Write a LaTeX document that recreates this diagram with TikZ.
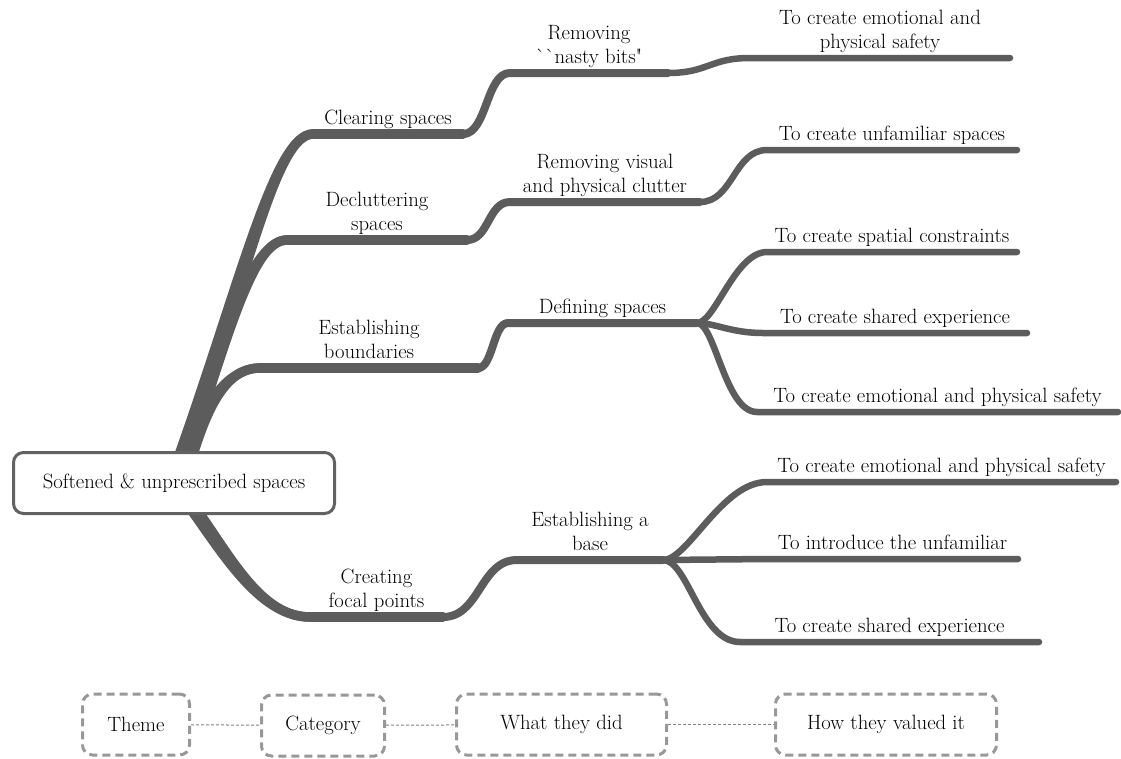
\documentclass[tikz,border=0pt]{standalone}
\usetikzlibrary{calc}
\definecolor{branch}{RGB}{92,92,92}
\definecolor{rootline}{RGB}{98,98,98}
\definecolor{keyline}{RGB}{152,152,152}
\pgfdeclarelayer{bg}
\pgfsetlayers{bg,main}
\newcommand\labelfont{\fontsize{20.7}{24}\selectfont}

\begin{document}
\begin{tikzpicture}[x=1pt,y=-1pt,
  lvlA/.style={draw=branch,line width=9.5pt,line cap=round,line join=round},
  lvlB/.style={draw=branch,line width=8pt,line cap=round,line join=round},
  lvlC/.style={draw=branch,line width=6.5pt,line cap=round,line join=round},
  lbl/.style={anchor=south,inner sep=0pt,align=center,
    font=\labelfont,execute at end node={\vphantom{gy}}},
  rootbox/.style={draw=rootline,line width=3pt,rounded corners=10pt,fill=white,
    minimum width=321pt,minimum height=61pt,inner sep=0pt,font=\labelfont},
  keybox/.style={draw=keyline,line width=3pt,dash pattern=on 8pt off 5pt,
    rounded corners=10pt,minimum height=61pt,inner sep=0pt,font=\labelfont},
  keylink/.style={draw=keyline!85!black,line width=1pt,dash pattern=on 3pt off 2pt}]
\useasboundingbox (0,0) rectangle (1121,758);

% central topic
\node[rootbox] (root) at (174,483) {Softened \& unprescribed spaces};

% horizontal runs of each topic
\coordinate (c1s) at (313,134); \coordinate (c1e) at (463,134);
\coordinate (c2s) at (287,240); \coordinate (c2e) at (467,240);
\coordinate (c3s) at (260,368); \coordinate (c3e) at (478,368);
\coordinate (c4s) at (310,617); \coordinate (c4e) at (443,617);

\coordinate (d1s) at (510,73);  \coordinate (d1e) at (668,73);
\coordinate (d2s) at (510,202); \coordinate (d2e) at (700,202);
\coordinate (d3s) at (508,323); \coordinate (d3e) at (697,323);
\coordinate (d4s) at (517,560); \coordinate (d4e) at (663,560);

\coordinate (e1s) at (750,58);  \coordinate (e1e) at (1010,58);
\coordinate (e2s) at (767,150); \coordinate (e2e) at (1017,150);
\coordinate (e3s) at (767,252); \coordinate (e3e) at (1017,252);
\coordinate (e4s) at (763,333); \coordinate (e4e) at (1027,333);
\coordinate (e5s) at (757,412); \coordinate (e5e) at (1118,412);
\coordinate (e6s) at (767,482); \coordinate (e6e) at (1116,482);
\coordinate (e7s) at (767,559); \coordinate (e7e) at (1018,559);
\coordinate (e8s) at (740,642); \coordinate (e8e) at (1039,642);

% roots of the first-level branches, tucked under the central box
\coordinate (r1a) at ($(root.north)+(5,4)$);  \coordinate (r1b) at ($(root.north)+(11,4)$);
\coordinate (r2a) at ($(root.north)+(9,4)$);  \coordinate (r2b) at ($(root.north)+(15,4)$);
\coordinate (r3a) at ($(root.north)+(13,4)$); \coordinate (r3b) at ($(root.north)+(19,4)$);
\coordinate (r4a) at ($(root.south)+(18,-4)$); \coordinate (r4b) at ($(root.south)+(24,-4)$);

\begin{pgfonlayer}{bg}
  % first level: tapered curves out of the central topic
  \foreach \r in {r1a,r1b}
    \draw[lvlA] (\r) .. controls +(62,-175) and +(-38,0) .. (c1s);
  \foreach \r in {r2a,r2b}
    \draw[lvlA] (\r) .. controls +(43,-135) and +(-32,0) .. (c2s);
  \foreach \r in {r3a,r3b}
    \draw[lvlA] (\r) .. controls +(14,-45) and +(-35,0) .. (c3s);
  \foreach \r in {r4a,r4b}
    \draw[lvlA] (\r) .. controls +(34,48) and +(-48,0) .. (c4s);
  \draw[lvlA] (c1s) -- (c1e);
  \draw[lvlA] (c2s) -- (c2e);
  \draw[lvlA] (c3s) -- (c3e);
  \draw[lvlA] (c4s) -- (c4e);

  % second level
  \draw[lvlB] (c1e) .. controls +(24,0) and +(-24,0) .. (d1s) -- (d1e);
  \draw[lvlB] (c2e) .. controls +(22,0) and +(-22,0) .. (d2s) -- (d2e);
  \draw[lvlB] (c3e) .. controls +(15,0) and +(-15,0) .. (d3s) -- (d3e);
  \draw[lvlB] (c4e) .. controls +(37,0) and +(-37,0) .. (d4s) -- (d4e);

  % third level
  \draw[lvlC] (d1e) .. controls +(40,0) and +(-40,0) .. (e1s) -- (e1e);
  \draw[lvlC] (d2e) .. controls +(33,0) and +(-33,0) .. (e2s) -- (e2e);
  \draw[lvlC] (d3e) .. controls +(18,0) and +(-32,0) .. (e3s) -- (e3e);
  \draw[lvlC] (d3e) .. controls +(18,0) and +(-32,0) .. (e4s) -- (e4e);
  \draw[lvlC] (d3e) .. controls +(18,0) and +(-32,0) .. (e5s) -- (e5e);
  \draw[lvlC] (d4e) .. controls +(25,0) and +(-45,0) .. (e6s) -- (e6e);
  \draw[lvlC] (d4e) -- (e7s) -- (e7e);
  \draw[lvlC] (d4e) .. controls +(25,0) and +(-40,0) .. (e8s) -- (e8e);
\end{pgfonlayer}

% topic labels, sitting on their runs
\node[lbl] (t1) at ($(c1s)!0.5!(c1e)+(0,-5)$) {Clearing spaces};
\node[lbl] (t2) at ($(c2s)!0.5!(c2e)+(0,-5)$) {Decluttering\\spaces};
\node[lbl] (t3) at ($(c3s)!0.5!(c3e)+(0,-5)$) {Establishing\\boundaries};
\node[lbl] (t4) at ($(c4s)!0.5!(c4e)+(0,-5)$) {Creating\\focal points};

\node[lbl] (u1) at ($(d1s)!0.5!(d1e)+(0,-5)$) {Removing\\\textasciigrave\textasciigrave nasty bits\textquotedbl};
\node[lbl] (u2) at ($(d2s)!0.5!(d2e)+(0,-5)$) {Removing visual\\and physical clutter};
\node[lbl] (u3) at ($(d3s)!0.5!(d3e)+(0,-5)$) {Defining spaces};
\node[lbl] (u4) at ($(d4s)!0.5!(d4e)+(0,-5)$) {Establishing a\\base};

\node[lbl] (v1) at ($(e1s)!0.5!(e1e)+(0,-5)$) {To create emotional and\\physical safety};
\node[lbl] (v2) at ($(e2s)!0.5!(e2e)+(0,-5)$) {To create unfamiliar spaces};
\node[lbl] (v3) at ($(e3s)!0.5!(e3e)+(0,-5)$) {To create spatial constraints};
\node[lbl] (v4) at ($(e4s)!0.5!(e4e)+(0,-5)$) {To create shared experience};
\node[lbl] (v5) at ($(e5s)!0.5!(e5e)+(0,-5)$) {To create emotional and physical safety};
\node[lbl] (v6) at ($(e6s)!0.5!(e6e)+(0,-5)$) {To create emotional and physical safety};
\node[lbl] (v7) at ($(e7s)!0.5!(e7e)+(0,-5)$) {To introduce the unfamiliar};
\node[lbl] (v8) at ($(e8s)!0.5!(e8e)+(0,-5)$) {To create shared experience};

% key
\node[keybox,minimum width=107pt] (k1) at (136,724.5) {Theme};
\node[keybox,minimum width=123pt] (k2) at (323,725.5) {Category};
\node[keybox,minimum width=210pt] (k3) at (561.5,724.5) {What they did};
\node[keybox,minimum width=221pt] (k4) at (886,724.5) {How they valued it};
\draw[keylink] (k1) -- (k2);
\draw[keylink] (k2) -- (k3);
\draw[keylink] (k3) -- (k4);
\end{tikzpicture}
\end{document}
